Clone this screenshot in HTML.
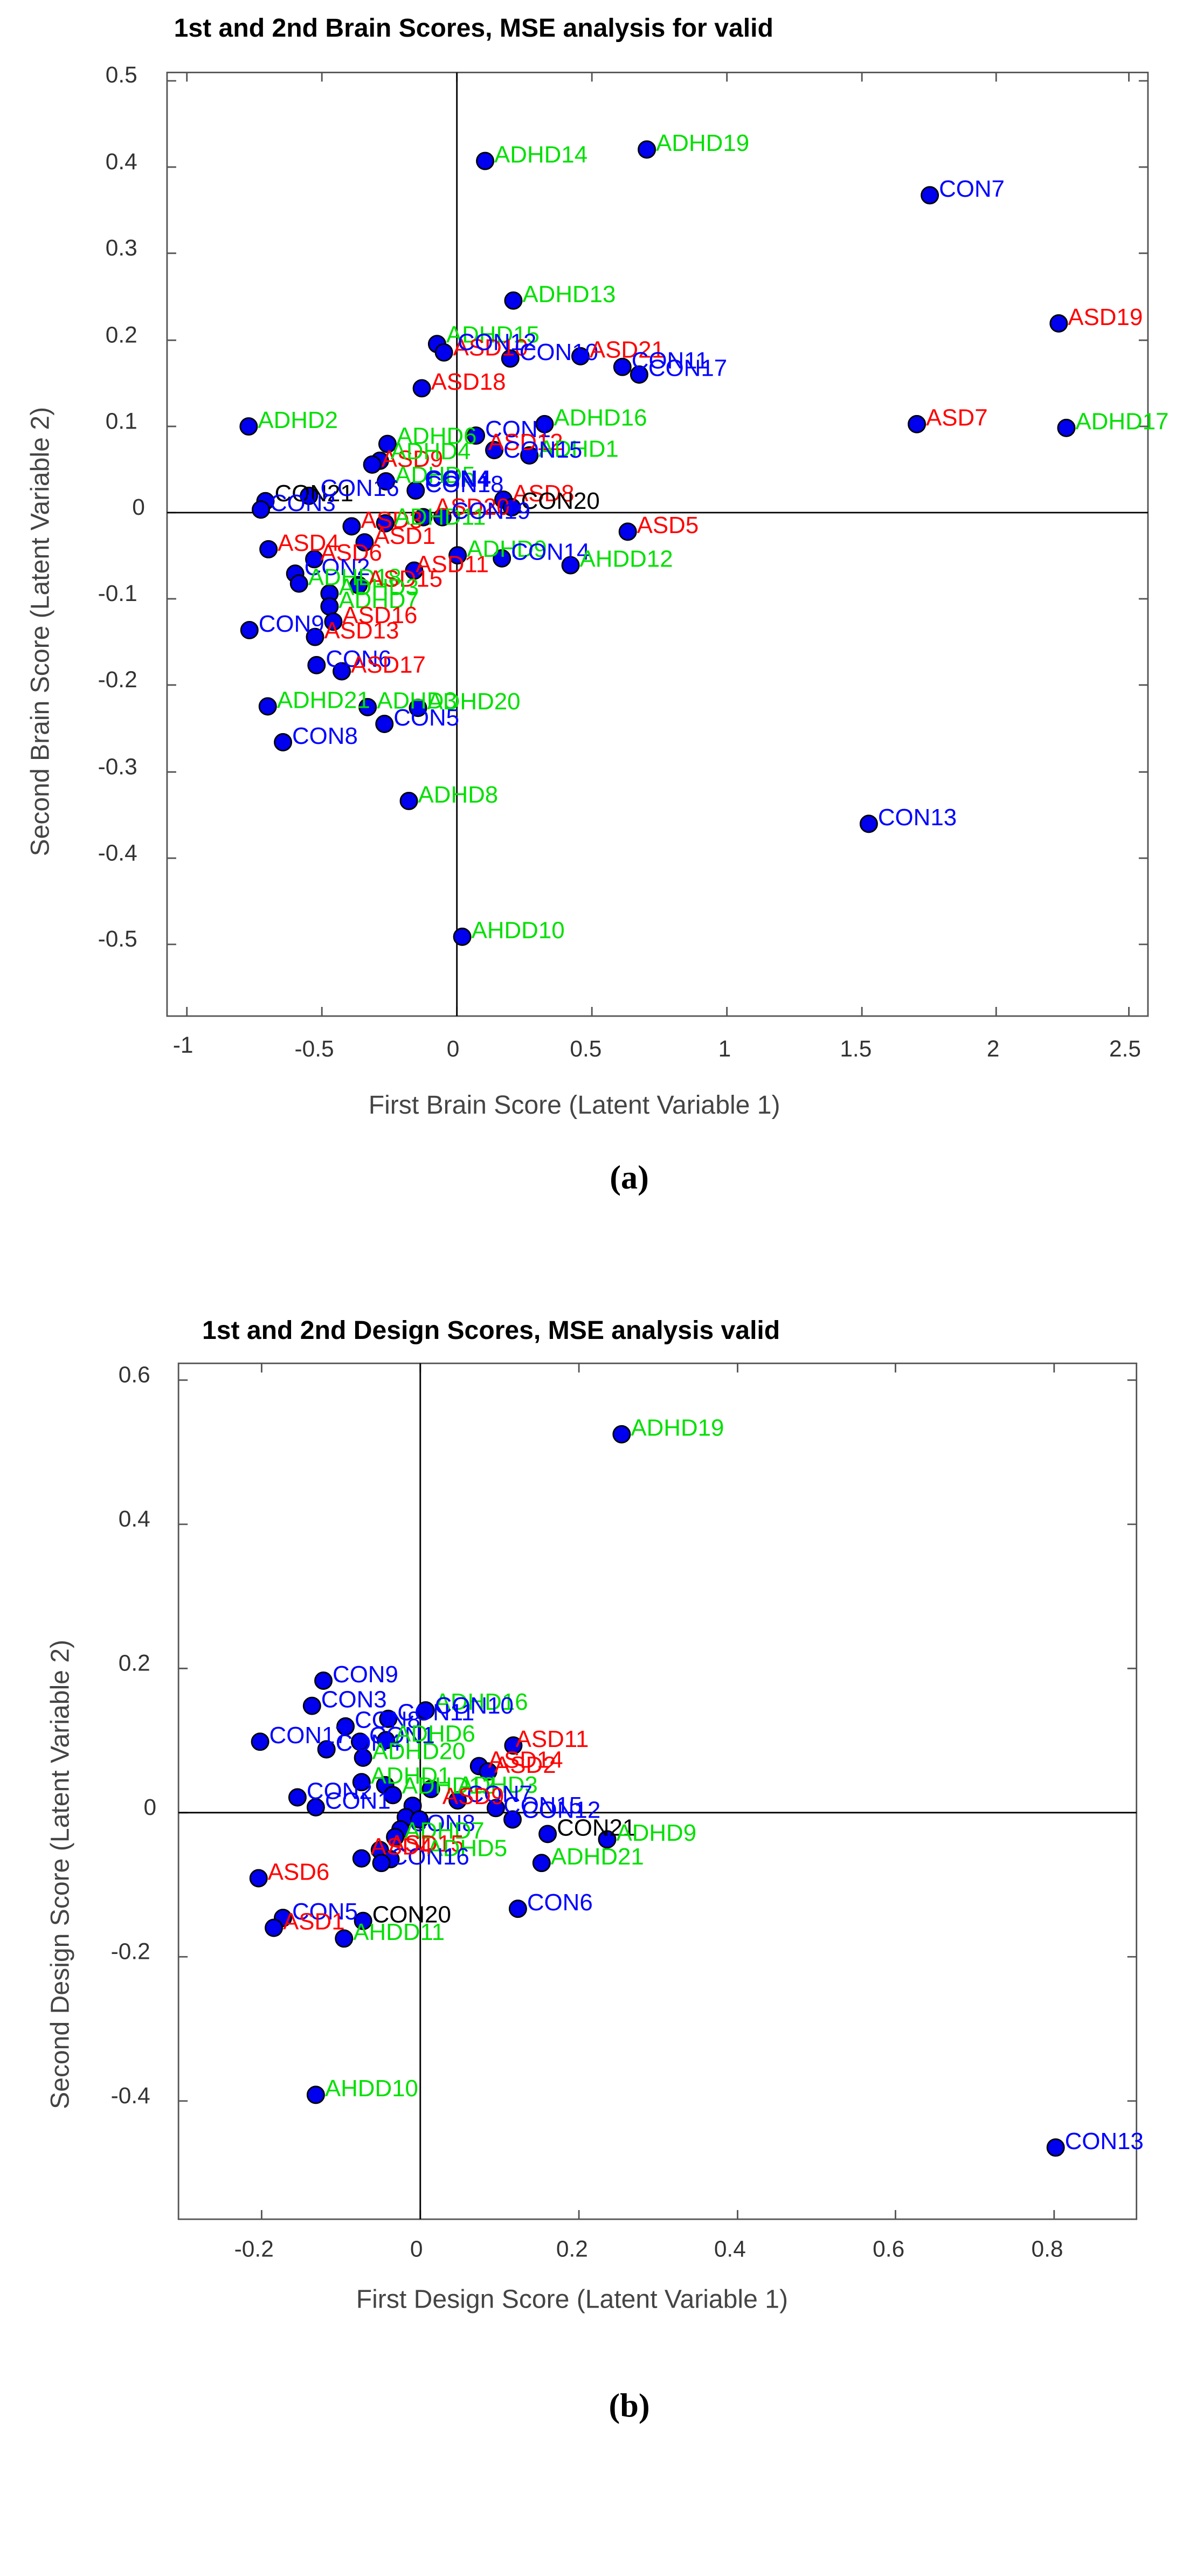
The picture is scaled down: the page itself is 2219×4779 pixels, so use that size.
<!DOCTYPE html>
<html><head><meta charset="utf-8"><style>
html,body{margin:0;padding:0;background:#fff;}
svg{display:block;}
text{font-family:"Liberation Sans",Arial,sans-serif;}
.t{font-size:30px;fill:#333;}
.l{font-size:31px;}
.g{fill:#00e000}.b{fill:#0000ff}.r{fill:#ff0000}.k{fill:#000}
circle{fill:#0000ee;stroke:#000;stroke-width:2}
</style></head><body>
<svg width="2219" height="4779" viewBox="0 0 2219 4779" xmlns="http://www.w3.org/2000/svg">
<rect width="2219" height="4779" fill="#fff"/>
<g transform="scale(1.41518)">
<text x="228" y="48" style="font-size:34px;font-weight:bold">1st and 2nd Brain Scores, MSE analysis for valid</text>
<rect x="219" y="95" width="1286" height="1237" fill="none" stroke="#555" stroke-width="2"/>
<g stroke="#555" stroke-width="2">
<path d="M245 1332v-12M422 1332v-12M599 1332v-12M776 1332v-12M953 1332v-12M1130 1332v-12M1306 1332v-12M1480 1332v-12M245 95v12M422 95v12M599 95v12M776 95v12M953 95v12M1130 95v12M1306 95v12M1480 95v12"/>
<path d="M219 106h12M219 219h12M219 332h12M219 446h12M219 559h12M219 672h12M219 785h12M219 898h12M219 1012h12M219 1125h12M219 1238h12M1505 106h-12M1505 219h-12M1505 332h-12M1505 446h-12M1505 559h-12M1505 785h-12M1505 898h-12M1505 1012h-12M1505 1125h-12M1505 1238h-12"/>
</g>
<line x1="599" y1="95" x2="599" y2="1332" stroke="#000" stroke-width="2"/>
<line x1="219" y1="672" x2="1505" y2="672" stroke="#000" stroke-width="2"/>
<g class="t" text-anchor="end">
<text x="180" y="108">0.5</text><text x="180" y="222">0.4</text><text x="180" y="335">0.3</text><text x="180" y="449">0.2</text><text x="180" y="562">0.1</text><text x="190" y="675">0</text><text x="180" y="788">-0.1</text><text x="180" y="901">-0.2</text><text x="180" y="1015">-0.3</text><text x="180" y="1128">-0.4</text><text x="180" y="1241">-0.5</text>
</g>
<g class="t" text-anchor="middle">
<text x="240" y="1380">-1</text><text x="412" y="1385">-0.5</text><text x="594" y="1385">0</text><text x="768" y="1385">0.5</text><text x="950" y="1385">1</text><text x="1122" y="1385">1.5</text><text x="1302" y="1385">2</text><text x="1475" y="1385">2.5</text>
</g>
<text x="753" y="1460" text-anchor="middle" style="font-size:34px;fill:#444">First Brain Score (Latent Variable 1)</text>
<text transform="translate(64,828) rotate(-90)" text-anchor="middle" style="font-size:34px;fill:#444">Second Brain Score (Latent Variable 2)</text>
<text x="825" y="1558" text-anchor="middle" style="font-family:'Liberation Serif',serif;font-size:44px;font-weight:bold">(a)</text>
<g>
<circle cx="636" cy="211" r="11"/><circle cx="848" cy="196" r="11"/><circle cx="1219" cy="256" r="11"/><circle cx="673" cy="394" r="11"/><circle cx="1388" cy="424" r="11"/>
<circle cx="573" cy="451" r="11"/><circle cx="582" cy="462" r="11"/><circle cx="669" cy="470" r="11"/><circle cx="761" cy="467" r="11"/><circle cx="816" cy="481" r="11"/><circle cx="838" cy="491" r="11"/>
<circle cx="553" cy="509" r="11"/><circle cx="326" cy="559" r="11"/><circle cx="714" cy="556" r="11"/><circle cx="1202" cy="556" r="11"/><circle cx="1398" cy="561" r="11"/>
<circle cx="508" cy="582" r="11"/><circle cx="624" cy="571" r="11"/><circle cx="648" cy="590" r="11"/><circle cx="694" cy="597" r="11"/><circle cx="498" cy="604" r="11"/><circle cx="488" cy="609" r="11"/>
<circle cx="506" cy="631" r="11"/><circle cx="545" cy="643" r="11"/><circle cx="660" cy="655" r="11"/><circle cx="671" cy="665" r="11"/><circle cx="348" cy="657" r="11"/><circle cx="342" cy="668" r="11"/><circle cx="405" cy="650" r="11"/>
<circle cx="461" cy="690" r="11"/><circle cx="505" cy="686" r="11"/><circle cx="478" cy="711" r="11"/><circle cx="580" cy="678" r="11"/><circle cx="555" cy="678" r="11"/><circle cx="823" cy="697" r="11"/>
<circle cx="352" cy="720" r="11"/><circle cx="412" cy="733" r="11"/><circle cx="387" cy="752" r="11"/><circle cx="392" cy="765" r="11"/><circle cx="543" cy="748" r="11"/><circle cx="470" cy="767" r="11"/><circle cx="432" cy="778" r="11"/><circle cx="432" cy="795" r="11"/>
<circle cx="437" cy="815" r="11"/><circle cx="327" cy="826" r="11"/><circle cx="413" cy="835" r="11"/><circle cx="415" cy="872" r="11"/><circle cx="448" cy="880" r="11"/>
<circle cx="351" cy="926" r="11"/><circle cx="482" cy="927" r="11"/><circle cx="548" cy="928" r="11"/><circle cx="504" cy="949" r="11"/><circle cx="371" cy="973" r="11"/>
<circle cx="536" cy="1050" r="11"/><circle cx="1139" cy="1080" r="11"/><circle cx="606" cy="1228" r="11"/><circle cx="600" cy="728" r="11"/><circle cx="658" cy="732" r="11"/><circle cx="748" cy="741" r="11"/>
</g>
<g class="l">
<text x="648" y="213" class="g">ADHD14</text><text x="860" y="198" class="g">ADHD19</text><text x="1231" y="258" class="b">CON7</text><text x="685" y="396" class="g">ADHD13</text><text x="1400" y="426" class="r">ASD19</text>
<text x="585" y="449" class="g">ADHD15</text><text x="594" y="466" class="r">ASD10</text><text x="600" y="459" class="b">CON12</text><text x="681" y="472" class="b">CON10</text><text x="773" y="469" class="r">ASD21</text><text x="828" y="483" class="b">CON11</text><text x="850" y="493" class="b">CON17</text>
<text x="565" y="511" class="r">ASD18</text><text x="338" y="561" class="g">ADHD2</text><text x="726" y="558" class="g">ADHD16</text><text x="1214" y="558" class="r">ASD7</text><text x="1410" y="563" class="g">ADHD17</text>
<text x="520" y="582" class="g">ADHD6</text><text x="636" y="573" class="b">CON1</text><text x="640" y="590" class="r">ASD12</text><text x="706" y="599" class="g">ADHD1</text><text x="660" y="600" class="b">CON15</text><text x="500" y="612" class="r">ASD9</text><text x="512" y="602" class="g">ADHD4</text>
<text x="518" y="633" class="g">ADHD5</text><text x="557" y="645" class="b">CON18</text><text x="557" y="638" class="b" style="font-weight:bold">CON4</text><text x="672" y="657" class="r">ASD8</text><text x="683" y="667" class="k">CON20</text><text x="570" y="675" class="r">ASD20</text><text x="360" y="657" class="k">CON21</text><text x="354" y="670" class="b">CON3</text><text x="420" y="650" class="b">CON16</text>
<text x="473" y="692" class="r">ASD3</text><text x="517" y="688" class="g">ADHD11</text><text x="490" y="713" class="r">ASD1</text><text x="592" y="680" class="b">CON19</text><text x="823" y="699" class="r" dx="12">ASD5</text>
<text x="364" y="722" class="r">ASD4</text><text x="420" y="735" class="r">ASD6</text><text x="399" y="754" class="b">CON2</text><text x="404" y="767" class="g">ADHD18</text><text x="545" y="750" class="r">ASD11</text><text x="482" y="769" class="r">ASD15</text><text x="444" y="780" class="g">ADHD3</text><text x="444" y="797" class="g">ADHD7</text>
<text x="449" y="817" class="r">ASD16</text><text x="339" y="828" class="b">CON9</text><text x="425" y="837" class="r">ASD13</text><text x="427" y="874" class="b">CON6</text><text x="460" y="882" class="r">ASD17</text>
<text x="363" y="928" class="g">ADHD21</text><text x="494" y="929" class="g">ADHD3</text><text x="560" y="930" class="g">ADHD20</text><text x="516" y="951" class="b">CON5</text><text x="383" y="975" class="b">CON8</text>
<text x="548" y="1052" class="g">ADHD8</text><text x="1151" y="1082" class="b">CON13</text><text x="618" y="1230" class="g">AHDD10</text><text x="612" y="730" class="g">ADHD9</text><text x="670" y="734" class="b">CON14</text><text x="760" y="743" class="g">AHDD12</text>
</g>
</g>

<g transform="translate(0,2300) scale(1.41518)">
<text x="265" y="130" style="font-size:34px;font-weight:bold">1st and 2nd Design Scores, MSE analysis valid</text>
<rect x="234" y="162" width="1256" height="1122" fill="none" stroke="#555" stroke-width="2"/>
<g stroke="#555" stroke-width="2">
<path d="M343 1284v-12M551 1284v-12M759 1284v-12M967 1284v-12M1174 1284v-12M1382 1284v-12M343 162v12M551 162v12M759 162v12M967 162v12M1174 162v12M1382 162v12"/>
<path d="M234 184h12M234 373h12M234 562h12M234 751h12M234 940h12M234 1129h12M1490 184h-12M1490 373h-12M1490 562h-12M1490 940h-12M1490 1129h-12"/>
</g>
<line x1="551" y1="162" x2="551" y2="1284" stroke="#000" stroke-width="2"/>
<line x1="234" y1="751" x2="1490" y2="751" stroke="#000" stroke-width="2"/>
<g class="t" text-anchor="end">
<text x="197" y="187">0.6</text><text x="197" y="376">0.4</text><text x="197" y="565">0.2</text><text x="205" y="754">0</text><text x="197" y="943">-0.2</text><text x="197" y="1132">-0.4</text>
</g>
<g class="t" text-anchor="middle">
<text x="333" y="1333">-0.2</text><text x="546" y="1333">0</text><text x="750" y="1333">0.2</text><text x="957" y="1333">0.4</text><text x="1165" y="1333">0.6</text><text x="1373" y="1333">0.8</text>
</g>
<text x="750" y="1400" text-anchor="middle" style="font-size:34px;fill:#444">First Design Score (Latent Variable 1)</text>
<text transform="translate(90,832) rotate(-90)" text-anchor="middle" style="font-size:34px;fill:#444">Second Design Score (Latent Variable 2)</text>
<text x="825" y="1543" text-anchor="middle" style="font-family:'Liberation Serif',serif;font-size:44px;font-weight:bold">(b)</text>
<g>
<circle cx="815" cy="255" r="11"/><circle cx="424" cy="578" r="11"/><circle cx="409" cy="611" r="11"/><circle cx="558" cy="617" r="11"/><circle cx="509" cy="628" r="11"/><circle cx="453" cy="638" r="11"/><circle cx="341" cy="658" r="11"/><circle cx="428" cy="668" r="11"/><circle cx="472" cy="658" r="11"/><circle cx="506" cy="656" r="11"/>
<circle cx="673" cy="663" r="11"/><circle cx="476" cy="679" r="11"/><circle cx="628" cy="690" r="11"/><circle cx="640" cy="697" r="11"/><circle cx="474" cy="711" r="11"/><circle cx="505" cy="715" r="11"/><circle cx="515" cy="728" r="11"/><circle cx="390" cy="731" r="11"/><circle cx="414" cy="744" r="11"/><circle cx="541" cy="742" r="11"/>
<circle cx="565" cy="720" r="11"/><circle cx="600" cy="735" r="11"/><circle cx="650" cy="745" r="11"/><circle cx="672" cy="760" r="11"/><circle cx="718" cy="779" r="11"/><circle cx="796" cy="786" r="11"/><circle cx="710" cy="817" r="11"/><circle cx="339" cy="837" r="11"/><circle cx="679" cy="877" r="11"/>
<circle cx="371" cy="889" r="11"/><circle cx="359" cy="902" r="11"/><circle cx="476" cy="893" r="11"/><circle cx="451" cy="916" r="11"/><circle cx="414" cy="1121" r="11"/><circle cx="1384" cy="1190" r="11"/>
<circle cx="532" cy="757" r="11"/><circle cx="525" cy="773" r="11"/><circle cx="518" cy="783" r="11"/><circle cx="498" cy="800" r="11"/><circle cx="512" cy="812" r="11"/><circle cx="500" cy="817" r="11"/><circle cx="474" cy="811" r="11"/><circle cx="550" cy="760" r="11"/>
</g>
<g class="l">
<text x="827" y="257" class="g">ADHD19</text><text x="436" y="580" class="b">CON9</text><text x="421" y="613" class="b">CON3</text><text x="570" y="616" class="g">ADHD16</text><text x="570" y="621" class="b">CON10</text><text x="521" y="630" class="b">CON11</text><text x="465" y="640" class="b">CON8</text><text x="353" y="660" class="b">CON17</text><text x="440" y="670" class="b">CON4</text><text x="484" y="660" class="b">CON1</text><text x="518" y="658" class="g">ADHD6</text>
<text x="676" y="665" class="r">ASD11</text><text x="488" y="681" class="g">ADHD20</text><text x="640" y="692" class="r">ASD14</text><text x="648" y="699" class="r">ASD2</text><text x="486" y="713" class="g">ADHD1</text><text x="527" y="726" class="g">ADHD12</text><text x="402" y="733" class="b">CON2</text><text x="426" y="746" class="b">CON1</text>
<text x="600" y="725" class="g">ADHD3</text><text x="612" y="737" class="b">CON7</text><text x="580" y="740" class="r">ASD9</text><text x="660" y="752" class="b">CON15</text><text x="684" y="758" class="b">CON12</text><text x="730" y="781" class="k">CON21</text><text x="808" y="788" class="g">ADHD9</text><text x="722" y="819" class="g">ADHD21</text><text x="351" y="839" class="r">ASD6</text><text x="691" y="879" class="b">CON6</text>
<text x="383" y="891" class="b">CON5</text><text x="371" y="904" class="r">ASD1</text><text x="488" y="895" class="k">CON20</text><text x="463" y="918" class="g">AHDD11</text><text x="426" y="1123" class="g">AHDD10</text><text x="1396" y="1192" class="b">CON13</text>
<text x="537" y="775" class="b">CON8</text><text x="530" y="785" class="g">ADHD7</text><text x="510" y="802" class="r">ASD15</text><text x="560" y="808" class="g">ADHD5</text><text x="512" y="819" class="b">CON16</text><text x="486" y="806" class="r">ASD4</text>
</g>
</g>
</svg>
</body></html>
